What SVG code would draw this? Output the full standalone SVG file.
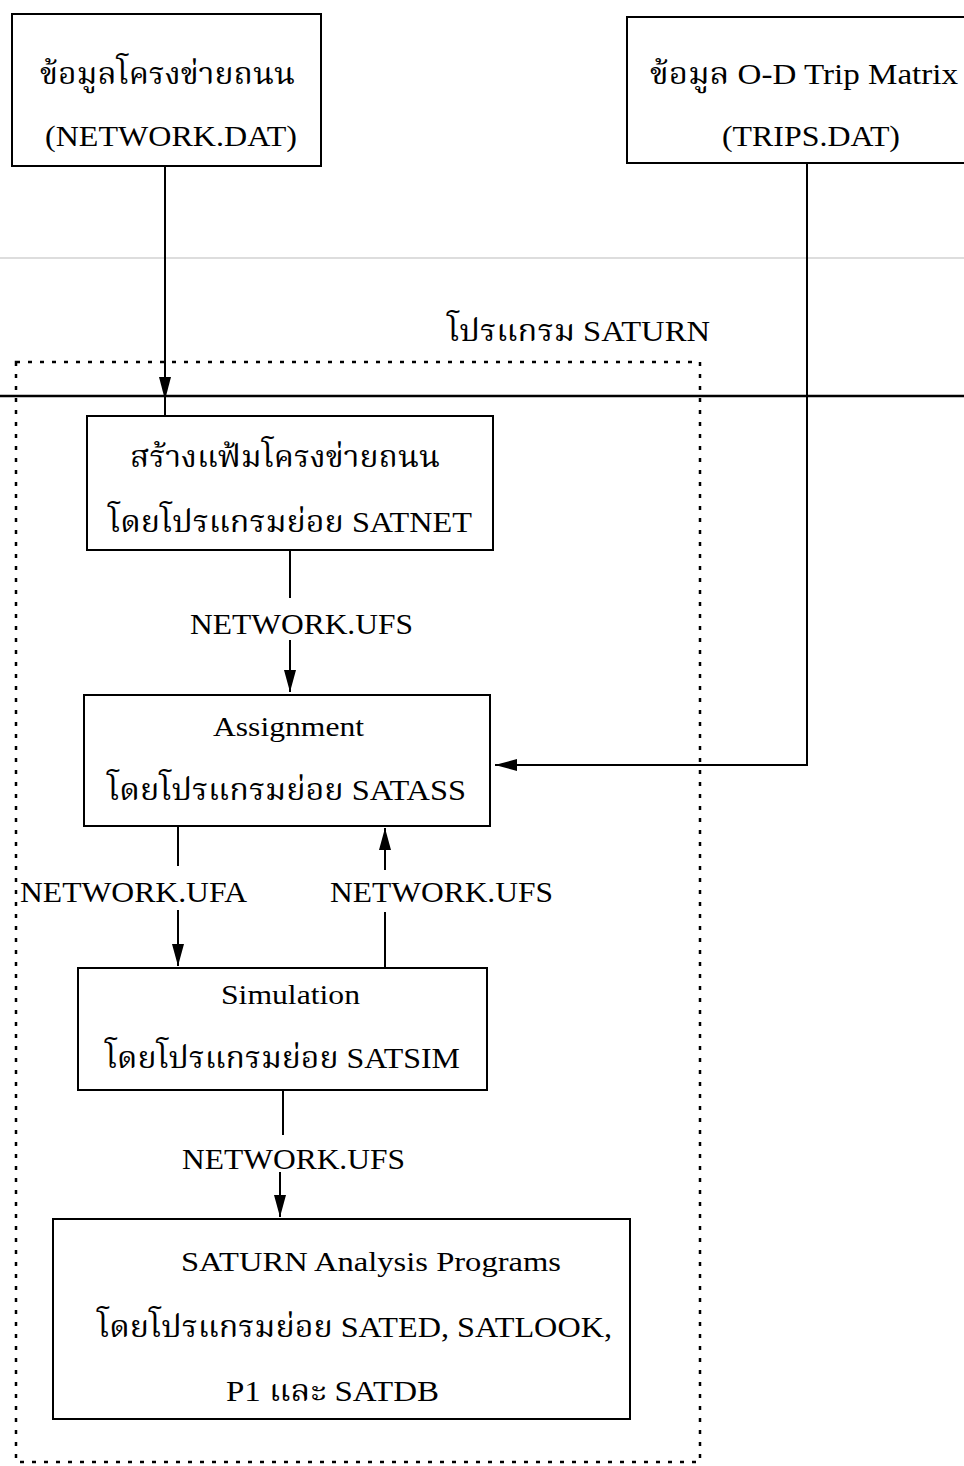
<svg xmlns="http://www.w3.org/2000/svg" width="964" height="1466" viewBox="0 0 964 1466">
<style>
.box{fill:#fff;stroke:#000;stroke-width:2}
.t{font-family:"Liberation Serif","Noto Serif Thai","Noto Sans Thai",serif;font-size:30px;fill:#000}
.s{font-size:27px}
.c{text-anchor:middle}
.ln{stroke:#000;stroke-width:2;fill:none}
</style>
<defs>
<marker id="ahb" markerWidth="22" markerHeight="12" refX="22" refY="6" orient="auto" markerUnits="userSpaceOnUse" viewBox="0 0 22 12">
<path d="M0,0 L22,6 L0,12 z" fill="#000"/>
</marker>
</defs>
<rect width="964" height="1466" fill="#fff"/>
<g id="background">
<line x1="0" y1="258" x2="964" y2="258" stroke="#bbb" stroke-width="1"/>
<line x1="0" y1="396" x2="964" y2="396" stroke="#000" stroke-width="2.5"/>
<rect id="saturn-frame" x="16" y="362" width="684" height="1100" fill="none" stroke="#000" stroke-width="2.5" stroke-dasharray="4 8"/>
<text class="t" x="447" y="341" textLength="263" lengthAdjust="spacingAndGlyphs">โปรแกรม SATURN</text>
</g>
<g id="connectors">
<line class="ln" x1="165" y1="166" x2="165" y2="415"/>
<path d="M159,377 L171,377 L165,400 z" fill="#000"/>
<line class="ln" x1="290" y1="550" x2="290" y2="598"/>
<line class="ln" x1="290" y1="640" x2="290" y2="692" marker-end="url(#ahb)"/>
<polyline class="ln" points="807,163 807,765 495,765" marker-end="url(#ahb)"/>
<line class="ln" x1="178" y1="826" x2="178" y2="866"/>
<line class="ln" x1="178" y1="910" x2="178" y2="966" marker-end="url(#ahb)"/>
<line class="ln" x1="385" y1="968" x2="385" y2="912"/>
<line class="ln" x1="385" y1="870" x2="385" y2="828" marker-end="url(#ahb)"/>
<line class="ln" x1="283" y1="1090" x2="283" y2="1135"/>
<line class="ln" x1="280" y1="1172" x2="280" y2="1217" marker-end="url(#ahb)"/>
<text class="t" x="190" y="634" textLength="223" lengthAdjust="spacingAndGlyphs">NETWORK.UFS</text>
<text class="t" x="20" y="902" textLength="227" lengthAdjust="spacingAndGlyphs">NETWORK.UFA</text>
<text class="t" x="330" y="902" textLength="223" lengthAdjust="spacingAndGlyphs">NETWORK.UFS</text>
<text class="t" x="182" y="1169" textLength="223" lengthAdjust="spacingAndGlyphs">NETWORK.UFS</text>
</g>
<g id="node-network-dat">
<rect class="box" x="12" y="14" width="309" height="152"/>
<text class="t" x="40" y="84" textLength="255" lengthAdjust="spacingAndGlyphs">ข้อมูลโครงข่ายถนน</text>
<text class="t" x="45" y="146" textLength="252" lengthAdjust="spacingAndGlyphs">(NETWORK.DAT)</text>
</g>
<g id="node-trips-dat">
<rect class="box" x="627" y="17" width="340" height="146"/>
<text class="t" x="650" y="84" textLength="308" lengthAdjust="spacingAndGlyphs">ข้อมูล O-D Trip Matrix</text>
<text class="t" x="722" y="146" textLength="178" lengthAdjust="spacingAndGlyphs">(TRIPS.DAT)</text>
</g>
<g id="node-satnet">
<rect class="box" x="87" y="416" width="406" height="134"/>
<text class="t" x="130" y="467" textLength="310" lengthAdjust="spacingAndGlyphs">สร้างแฟ้มโครงข่ายถนน</text>
<text class="t" x="108" y="532" textLength="364" lengthAdjust="spacingAndGlyphs">โดยโปรแกรมย่อย SATNET</text>
</g>
<g id="node-satass">
<rect class="box" x="84" y="695" width="406" height="131"/>
<text class="t s" x="213" y="736" textLength="151" lengthAdjust="spacingAndGlyphs">Assignment</text>
<text class="t" x="107" y="800" textLength="359" lengthAdjust="spacingAndGlyphs">โดยโปรแกรมย่อย SATASS</text>
</g>
<g id="node-satsim">
<rect class="box" x="78" y="968" width="409" height="122"/>
<text class="t s" x="221" y="1004" textLength="139" lengthAdjust="spacingAndGlyphs">Simulation</text>
<text class="t" x="105" y="1068" textLength="355" lengthAdjust="spacingAndGlyphs">โดยโปรแกรมย่อย SATSIM</text>
</g>
<g id="node-analysis">
<rect class="box" x="53" y="1219" width="577" height="200"/>
<text class="t s" x="181" y="1271" textLength="380" lengthAdjust="spacingAndGlyphs">SATURN Analysis Programs</text>
<text class="t" x="97" y="1337" textLength="515" lengthAdjust="spacingAndGlyphs">โดยโปรแกรมย่อย SATED, SATLOOK,</text>
<text class="t" x="226" y="1401" textLength="213" lengthAdjust="spacingAndGlyphs">P1 และ SATDB</text>
</g>
</svg>
